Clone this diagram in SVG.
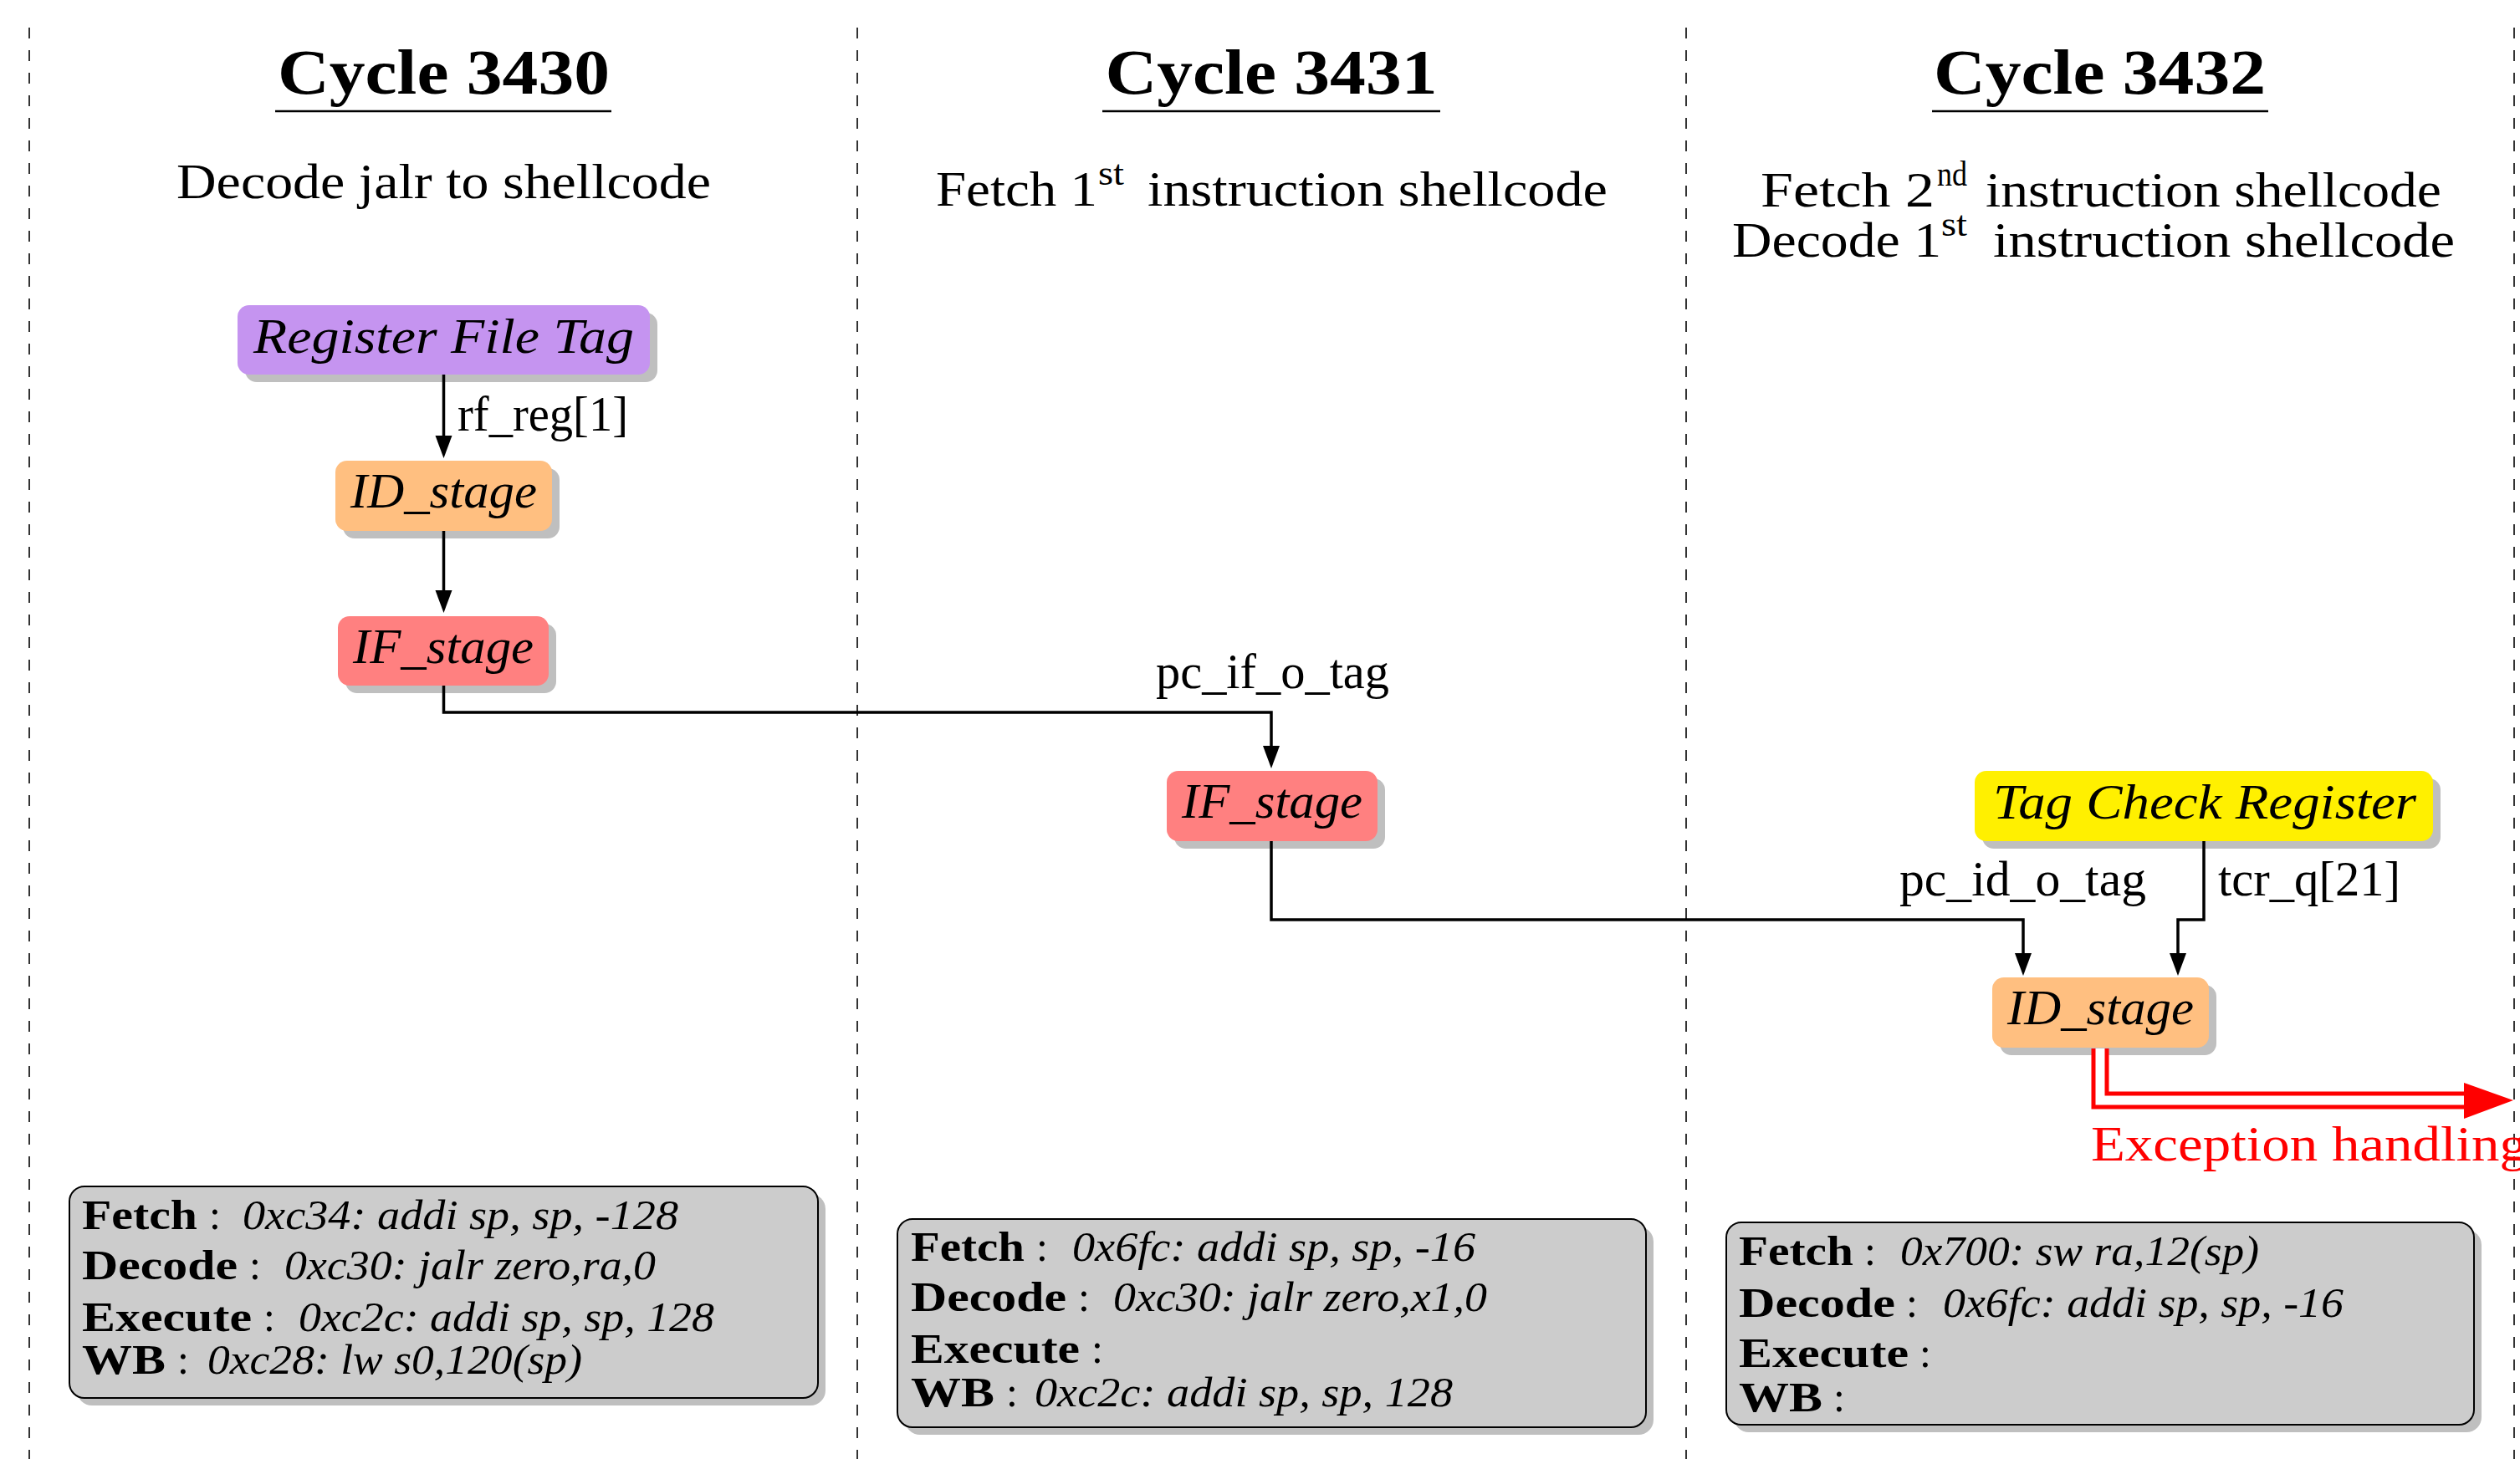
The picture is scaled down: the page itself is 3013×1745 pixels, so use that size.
<svg xmlns="http://www.w3.org/2000/svg" width="3013" height="1745" viewBox="0 0 3013 1745">
<defs>
<marker id="ah" markerUnits="userSpaceOnUse" markerWidth="30" markerHeight="24" viewBox="0 -12 30 24" refX="15" refY="0" orient="auto">
<path d="M0,-10 L27,0 L0,10 Z" fill="#000"/>
</marker>
</defs>
<style>
text{font-family:"Liberation Serif","Times New Roman",serif;fill:#000}
.hdr{font-size:76px;font-weight:bold;text-anchor:middle}
.sub{font-size:60px}
.sup{font-size:42px}
.mid{text-anchor:middle}
.nl{font-size:60px;font-style:italic;text-anchor:middle}
.lbl{font-size:60px}
.bx{font-size:50px}
.b{font-weight:bold}
.i{font-style:italic}
.sh{fill:#BFBFBF}
.gray{fill:#CCCCCC;stroke:#000;stroke-width:2}
.div{stroke:#333;stroke-width:2;stroke-dasharray:13 14;fill:none}
.ul{stroke:#000;stroke-width:2.5}
.wire{fill:none;stroke:#000;stroke-width:3.5}
.exo{fill:none;stroke:#FF0000;stroke-width:21;stroke-linejoin:miter}
.exi{fill:none;stroke:#FFFFFF;stroke-width:11;stroke-linejoin:miter}
</style>
<rect width="3013" height="1745" fill="#FFFFFF"/>

<g id="dividers">
<path class="div" d="M35,33 V1745"/>
<path class="div" d="M1025,33 V1745"/>
<path class="div" d="M2016,33 V1745"/>
<path class="div" d="M3006,33 V1745"/>
</g>

<g id="header-3430">
<text class="hdr" x="530.5" y="112" textLength="397" lengthAdjust="spacingAndGlyphs">Cycle 3430</text>
<line class="ul" x1="329" y1="133" x2="731" y2="133"/>
<text class="sub" x="211" y="237" textLength="639" lengthAdjust="spacingAndGlyphs">Decode jalr to shellcode</text>
</g>

<g id="header-3431">
<text class="hdr" x="1520" y="112" textLength="397" lengthAdjust="spacingAndGlyphs">Cycle 3431</text>
<line class="ul" x1="1318" y1="133" x2="1722" y2="133"/>
<text class="sub" x="1119" y="246" textLength="193" lengthAdjust="spacingAndGlyphs">Fetch 1</text>
<text class="sup" x="1313" y="221" textLength="31" lengthAdjust="spacingAndGlyphs">st</text>
<text class="sub" x="1372" y="246" textLength="550" lengthAdjust="spacingAndGlyphs">instruction shellcode</text>
</g>

<g id="header-3432">
<text class="hdr" x="2510.5" y="112" textLength="397" lengthAdjust="spacingAndGlyphs">Cycle 3432</text>
<line class="ul" x1="2310" y1="133" x2="2712" y2="133"/>
<text class="sub" x="2105" y="247" textLength="208" lengthAdjust="spacingAndGlyphs">Fetch 2</text>
<text class="sup" x="2316" y="222" textLength="36" lengthAdjust="spacingAndGlyphs">nd</text>
<text class="sub" x="2374" y="247" textLength="545" lengthAdjust="spacingAndGlyphs">instruction shellcode</text>
<text class="sub" x="2071" y="307" textLength="250" lengthAdjust="spacingAndGlyphs">Decode 1</text>
<text class="sup" x="2321" y="282" textLength="31" lengthAdjust="spacingAndGlyphs">st</text>
<text class="sub" x="2383" y="307" textLength="552" lengthAdjust="spacingAndGlyphs">instruction shellcode</text>
</g>

<g id="node-rft">
<rect class="sh" x="293" y="374" width="493" height="83" rx="14"/>
<rect x="284" y="365" width="493" height="83" rx="14" fill="#C594F0"/>
<text class="nl" x="530.5" y="422" textLength="455" lengthAdjust="spacingAndGlyphs">Register File Tag</text>
</g>

<g id="node-id1">
<rect class="sh" x="410" y="560" width="259" height="84" rx="14"/>
<rect x="401" y="551" width="259" height="84" rx="14" fill="#FFBF80"/>
<text class="nl" x="530.5" y="607" textLength="223" lengthAdjust="spacingAndGlyphs">ID_stage</text>
</g>

<g id="node-if1">
<rect class="sh" x="413" y="746" width="252" height="83" rx="14"/>
<rect x="404" y="737" width="252" height="83" rx="14" fill="#FF8080"/>
<text class="nl" x="530" y="793" textLength="216" lengthAdjust="spacingAndGlyphs">IF_stage</text>
</g>

<g id="node-if2">
<rect class="sh" x="1404" y="931" width="252" height="84" rx="14"/>
<rect x="1395" y="922" width="252" height="84" rx="14" fill="#FF8080"/>
<text class="nl" x="1521" y="978" textLength="216" lengthAdjust="spacingAndGlyphs">IF_stage</text>
</g>

<g id="node-tcr">
<rect class="sh" x="2370" y="931" width="548" height="84" rx="14"/>
<rect x="2361" y="922" width="548" height="84" rx="14" fill="#FFF000"/>
<text class="nl" x="2636" y="979" textLength="506" lengthAdjust="spacingAndGlyphs">Tag Check Register</text>
</g>

<g id="node-id3">
<rect class="sh" x="2391" y="1178" width="259" height="84" rx="14"/>
<rect x="2382" y="1169" width="259" height="84" rx="14" fill="#FFBF80"/>
<text class="nl" x="2511.5" y="1225" textLength="223" lengthAdjust="spacingAndGlyphs">ID_stage</text>
</g>

<g id="pipe-3430">
<rect class="sh" x="92" y="1428" width="895" height="253" rx="18"/>
<rect class="gray" x="83" y="1419" width="895" height="253" rx="18"/>
<text class="bx b" x="98" y="1470" textLength="138" lengthAdjust="spacingAndGlyphs">Fetch</text>
<text class="bx" x="250" y="1470">:</text>
<text class="bx i" x="290" y="1470" textLength="521" lengthAdjust="spacingAndGlyphs">0xc34: addi sp, sp, -128</text>
<text class="bx b" x="98" y="1530" textLength="186" lengthAdjust="spacingAndGlyphs">Decode</text>
<text class="bx" x="298" y="1530">:</text>
<text class="bx i" x="340" y="1530" textLength="444" lengthAdjust="spacingAndGlyphs">0xc30: jalr zero,ra,0</text>
<text class="bx b" x="98" y="1592" textLength="203" lengthAdjust="spacingAndGlyphs">Execute</text>
<text class="bx" x="315" y="1592">:</text>
<text class="bx i" x="357" y="1592" textLength="497" lengthAdjust="spacingAndGlyphs">0xc2c: addi sp, sp, 128</text>
<text class="bx b" x="98" y="1643" textLength="100" lengthAdjust="spacingAndGlyphs">WB</text>
<text class="bx" x="212" y="1643">:</text>
<text class="bx i" x="248" y="1643" textLength="448" lengthAdjust="spacingAndGlyphs">0xc28: lw s0,120(sp)</text>
</g>

<g id="pipe-3431">
<rect class="sh" x="1082" y="1467" width="895" height="249" rx="18"/>
<rect class="gray" x="1073" y="1458" width="895" height="249" rx="18"/>
<text class="bx b" x="1089" y="1508" textLength="136" lengthAdjust="spacingAndGlyphs">Fetch</text>
<text class="bx" x="1239" y="1508">:</text>
<text class="bx i" x="1282" y="1508" textLength="482" lengthAdjust="spacingAndGlyphs">0x6fc: addi sp, sp, -16</text>
<text class="bx b" x="1089" y="1568" textLength="186" lengthAdjust="spacingAndGlyphs">Decode</text>
<text class="bx" x="1289" y="1568">:</text>
<text class="bx i" x="1331" y="1568" textLength="447" lengthAdjust="spacingAndGlyphs">0xc30: jalr zero,x1,0</text>
<text class="bx b" x="1089" y="1630" textLength="202" lengthAdjust="spacingAndGlyphs">Execute</text>
<text class="bx" x="1305" y="1630">:</text>
<text class="bx b" x="1089" y="1682" textLength="100" lengthAdjust="spacingAndGlyphs">WB</text>
<text class="bx" x="1203" y="1682">:</text>
<text class="bx i" x="1237" y="1682" textLength="500" lengthAdjust="spacingAndGlyphs">0xc2c: addi sp, sp, 128</text>
</g>

<g id="pipe-3432">
<rect class="sh" x="2073" y="1471" width="894" height="242" rx="18"/>
<rect class="gray" x="2064" y="1462" width="894" height="242" rx="18"/>
<text class="bx b" x="2079" y="1513" textLength="137" lengthAdjust="spacingAndGlyphs">Fetch</text>
<text class="bx" x="2229" y="1513">:</text>
<text class="bx i" x="2272" y="1513" textLength="429" lengthAdjust="spacingAndGlyphs">0x700: sw ra,12(sp)</text>
<text class="bx b" x="2079" y="1575" textLength="187" lengthAdjust="spacingAndGlyphs">Decode</text>
<text class="bx" x="2279" y="1575">:</text>
<text class="bx i" x="2323" y="1575" textLength="479" lengthAdjust="spacingAndGlyphs">0x6fc: addi sp, sp, -16</text>
<text class="bx b" x="2079" y="1635" textLength="203" lengthAdjust="spacingAndGlyphs">Execute</text>
<text class="bx" x="2295" y="1635">:</text>
<text class="bx b" x="2079" y="1688" textLength="100" lengthAdjust="spacingAndGlyphs">WB</text>
<text class="bx" x="2192" y="1688">:</text>
</g>

<g id="connectors">
<path class="wire" d="M530.5,448 V536" marker-end="url(#ah)"/>
<text class="lbl" x="547" y="515" textLength="204" lengthAdjust="spacingAndGlyphs">rf_reg[1]</text>
<path class="wire" d="M530.5,635 V721" marker-end="url(#ah)"/>
<path class="wire" d="M530.5,820 V852 H1520 V907" marker-end="url(#ah)"/>
<text class="lbl" x="1382" y="823" textLength="279" lengthAdjust="spacingAndGlyphs">pc_if_o_tag</text>
<path class="wire" d="M1520,1006 V1100 H2419 V1155" marker-end="url(#ah)"/>
<text class="lbl" x="2271" y="1071" textLength="295" lengthAdjust="spacingAndGlyphs">pc_id_o_tag</text>
<path class="wire" d="M2635,1006 V1100 H2604 V1155" marker-end="url(#ah)"/>
<text class="lbl" x="2652" y="1071" textLength="218" lengthAdjust="spacingAndGlyphs">tcr_q[21]</text>
<path class="exo" d="M2511,1254 V1316 H2948"/>
<path class="exi" d="M2511,1254 V1316 H2948"/>
<polygon points="2946,1295 3005,1316 2946,1338" fill="#FF0000"/>
<text class="lbl" x="2500" y="1388" style="fill:#FF0000" textLength="522" lengthAdjust="spacingAndGlyphs">Exception handling</text>
</g>
</svg>
